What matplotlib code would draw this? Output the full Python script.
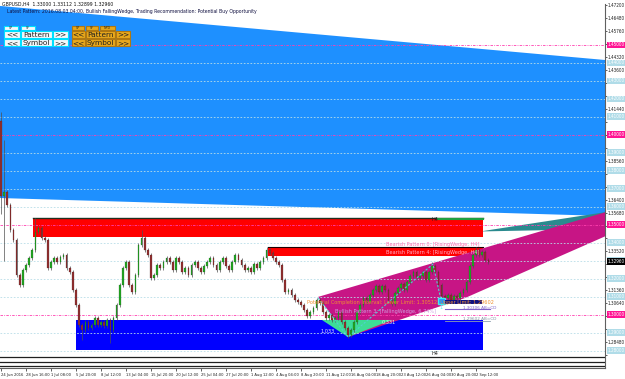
import numpy as np
import matplotlib
matplotlib.use("Agg")
import matplotlib.pyplot as plt
from matplotlib.patches import Polygon, Rectangle

SYMBOL_LINE = "GBPUSD,H4  1.33000 1.33112 1.32899 1.32960"
INFO_LINE = ("Latest Pattern: 2016.08.03 04:00, Bullish FallingWedge, "
             "Trading Recommendation: Potential Buy Opportunity")

# one candle every 2 H4 slots
closes = [
    1.3660, 1.3683, 1.3610, 1.3471, 1.3416, 1.3221, 1.3165, 1.3249, 1.3277, 1.3316,
    1.3360, 1.3460, 1.3482, 1.3427, 1.3416, 1.3260, 1.3293, 1.3316, 1.3293, 1.3321,
    1.3332, 1.3260, 1.3238, 1.3138, 1.3054, 1.2943, 1.2915, 1.2960, 1.2926, 1.2943,
    1.2982, 1.2943, 1.2960, 1.2937, 1.2971, 1.2915, 1.2982, 1.3054, 1.3165, 1.3260,
    1.3293, 1.3165, 1.3126, 1.3221, 1.3388, 1.3427, 1.3360, 1.3332, 1.3204, 1.3221,
    1.3277, 1.3260, 1.3293, 1.3316, 1.3293, 1.3249, 1.3316, 1.3293, 1.3238, 1.3260,
    1.3221, 1.3277, 1.3293, 1.3260, 1.3238, 1.3271, 1.3293, 1.3316, 1.3277, 1.3249,
    1.3293, 1.3316, 1.3271, 1.3249, 1.3293, 1.3332, 1.3304, 1.3277, 1.3249, 1.3260,
    1.3238, 1.3282, 1.3260, 1.3293, 1.3316, 1.3360, 1.3343, 1.3316, 1.3293, 1.3277,
    1.3193, 1.3126, 1.3138, 1.3110, 1.3082, 1.3071, 1.3054, 1.3026, 1.2993, 1.3015,
    1.3038, 1.3082, 1.3065, 1.3015, 1.2982, 1.2999, 1.2971, 1.2982, 1.3015, 1.2960,
    1.2926, 1.2887, 1.2915, 1.2960, 1.3015, 1.3054, 1.3093, 1.3071, 1.3110, 1.3138,
    1.3160, 1.3126, 1.3160, 1.3138, 1.3082, 1.3060, 1.3121, 1.3149, 1.3171, 1.3138,
    1.3182, 1.3215, 1.3238, 1.3204, 1.3215, 1.3238, 1.3193, 1.3238, 1.3271, 1.3238,
    1.3165, 1.3104, 1.3093, 1.3110, 1.3082, 1.3104, 1.3093, 1.3121, 1.3138, 1.3182,
    1.3271, 1.3332, 1.3360, 1.3332, 1.3349, 1.3304, 1.3296,
]
first_open = 1.4080
wick = 0.0012
spike_idx = [0, 1, 11, 26, 35, 45, 85, 111, 138, 152]
spike_high = [1.4130, 1.3972, 1.3538, None, None, 1.3471, 1.3377, None, 1.3293, 1.3377]
spike_low = [1.3560, 1.3300, None, 1.2860, 1.2843, None, None, 1.2871, None, None]

date_labels = ["24 Jun 2016", "28 Jun 16:00", "1 Jul 08:00", "5 Jul 20:00",
               "8 Jul 12:00", "13 Jul 04:00", "15 Jul 20:00", "20 Jul 12:00",
               "25 Jul 04:00", "27 Jul 20:00", "1 Aug 12:00", "4 Aug 04:00",
               "8 Aug 20:00", "11 Aug 12:00", "16 Aug 04:00", "18 Aug 20:00",
               "23 Aug 12:00", "26 Aug 04:00", "30 Aug 20:00", "2 Sep 12:00"]

# pattern objects (slot, price)
wedge_blue = [(-0.64, 1.4717), (387.2, 1.4416), (387.2, 1.3549), (-0.64, 1.3649)]
wedge_teal = [(306.6, 1.3463), (387.2, 1.3571), (387.2, 1.3477)]
wedge_magenta = [(202.9, 1.3099), (387.2, 1.3571), (387.2, 1.3438),
                 (297.0, 1.3093), (222.1, 1.2876)]
tri_green = [(205.4, 1.2971), (250.2, 1.2971), (222.1, 1.2876)]
zigzag_x = [202.9, 222.1, 276.5, 281.6]
zigzag_y = [1.3093, 1.2876, 1.3282, 1.3082]
red_zone1 = (20.5, 308.5, 1.3432, 1.3538)
red_zone2 = (170.9, 308.5, 1.3327, 1.3377)
blue_zone = (48.0, 308.5, 1.2804, 1.2971)

level_minor = [1.44, 1.43, 1.42, 1.41, 1.39, 1.38, 1.37, 1.36,
               1.34, 1.33, 1.32, 1.31, 1.29, 1.28]
level_major = [1.45, 1.40, 1.35, 1.30]
price_ticks = [round(1.4720 - 0.0072 * k, 4) for k in range(28)]

small = dict(fontsize=3.3, fontstretch="condensed")
xsmall = dict(fontsize=2.95, fontstretch="condensed")

fig = plt.figure(figsize=(6.25, 3.79), dpi=100)
fig.patch.set_facecolor("white")
ax = fig.add_axes([0, 11 / 379, 605 / 625, 364 / 379])
ax.set_xlim(-0.64, 386.6)
ax.set_ylim(1.27039, 1.47278)
ax.set_facecolor("white")

# background objects
ax.add_patch(Polygon(wedge_blue, closed=True, fc="#1E90FF", ec="none", zorder=1))
ax.add_patch(Polygon(wedge_magenta, closed=True, fc="#C71585", ec="none", zorder=1.2))
ax.add_patch(Polygon(wedge_teal, closed=True, fc="#2A8A8E", ec="none", zorder=1.05))
for (x0, x1, y0, y1), col in [(red_zone1, "#FF0000"), (red_zone2, "#FF0000"),
                              (blue_zone, "#0000FF")]:
    ax.add_patch(Rectangle((x0, y0), x1 - x0, y1 - y0, fc=col, ec="none", zorder=1.1))
ax.plot([red_zone1[0], red_zone1[1]], [red_zone1[3]] * 2, color="#203020", lw=1.0, zorder=1.15)
ax.plot([280, red_zone1[1]], [red_zone1[3] - 0.0008] * 2, color="#20A040", lw=1.5, zorder=1.16)
ax.plot([red_zone2[0], red_zone2[1]], [red_zone2[3]] * 2, color="#200000", lw=0.8, zorder=1.15)
ax.add_patch(Polygon(tri_green, closed=True, fc="#3DDC97", ec="none", zorder=1.25))

# level lines
for lv in level_minor:
    ax.axhline(lv, color="#B8DDE8", lw=0.6, ls=(0, (2, 2)), zorder=2)
for lv in level_major:
    ax.axhline(lv, color="#FF3FB0", lw=0.6, ls=(0, (3, 1.5, 1, 1.5)), zorder=2)

# candles
n = len(closes)
xs = np.arange(n) * 2.0
opens = [first_open] + closes[:-1]
highs = [max(o, c) + wick for o, c in zip(opens, closes)]
lows = [min(o, c) - wick for o, c in zip(opens, closes)]
for i, h, l in zip(spike_idx, spike_high, spike_low):
    if h is not None:
        highs[i] = h
    if l is not None:
        lows[i] = l
ax.vlines(xs, lows, highs, color="#505050", lw=0.5, zorder=3)
o = np.array(opens)
c = np.array(closes)
up = c >= o
ax.bar(xs[up], np.maximum(c[up] - o[up], 0.0002), bottom=o[up], width=1.1,
       color="#22A822", edgecolor="#1A401A", lw=0.15, zorder=3.1)
ax.bar(xs[~up], np.maximum(o[~up] - c[~up], 0.0002), bottom=c[~up], width=1.1,
       color="#923030", edgecolor="#401515", lw=0.15, zorder=3.1)

# pattern drawings
ax.plot(zigzag_x, zigzag_y, color="#50D0D0", lw=0.8, ls=(0, (2, 1.5)), zorder=3.5)
ax.add_patch(Rectangle((279.7, 1.3060), 4.5, 0.0033, fc="#1E90FF", ec="#40F0F0", lw=1.0, zorder=3.6))
ax.add_patch(Rectangle((284.2, 1.3060), 23.6, 0.0022, fc="#101080", ec="none", zorder=3.6))
ax.plot([284.2, 307.8], [1.3055, 1.3055], color="white", lw=0.6, zorder=3.6)
ax.plot([284.2, 313.0], [1.3032, 1.3032], color="#8060C8", lw=0.8, zorder=3.6)
ax.plot([284.2, 313.0], [1.2968, 1.2968], color="#90A0B0", lw=0.6, zorder=3.6)

fs = 3.6
ax.text(306, 1.3393, "Bearish Pattern 0: [RisingWedge, H4]", color="#FF6FB0", fontsize=fs,
        ha="right", va="center", zorder=4)
ax.text(306, 1.3348, "Bearish Pattern 4: [RisingWedge, H4]", color="#FFB0C8", fontsize=fs,
        ha="right", va="center", zorder=4)
ax.text(278, 1.3530, "H4", color="#202020", fontsize=fs, ha="center", va="center", zorder=4)
ax.text(278, 1.2785, "H4", color="#202020", fontsize=fs, ha="center", va="center", zorder=4)
ax.text(196, 1.3070, "Potential Completion Interval: Lower Limit: 1.30512, Upper Limit: 1.29602",
        color="#F09030", fontsize=fs, ha="left", va="center", zorder=4)
ax.text(214, 1.3017, "Bullish Pattern 3: [FallingWedge, 6.74%]", color="#D0A0E0",
        fontsize=fs, ha="left", va="center", zorder=4)
ax.text(248, 1.2955, "0.331", color="#E0FFE0", fontsize=fs, ha="center", va="center", zorder=4)
ax.text(209, 1.2905, "1.033", color="#E0E0FF", fontsize=fs, ha="center", va="center", zorder=4)
ax.text(281.5, 1.3040, "1", color="#60F0F0", fontsize=fs, ha="center", va="center", zorder=4)
ax.text(296, 1.3028, "1.30306 AB=CD", color="#8060C8", fontsize=3.0, ha="left", va="bottom", zorder=4)
ax.text(296, 1.2964, "1.29602 AB=CD", color="#8090A0", fontsize=3.0, ha="left", va="bottom", zorder=4)

# three separator lines at the bottom
for fy in [0.031, 0.017, 0.006]:
    ax.plot([0, 1], [fy, fy], transform=ax.transAxes, color="#202020", lw=0.9, zorder=5)

# axes
for side in ["top", "left"]:
    ax.spines[side].set_visible(False)
ax.spines["right"].set_color("#606060")
ax.spines["right"].set_linewidth(0.8)
ax.spines["bottom"].set_color("#606060")
ax.yaxis.tick_right()
levels_all = level_minor + level_major + [closes[-1]]
ax.set_yticks(price_ticks)
ax.set_yticklabels(["" if min(abs(p - lv) for lv in levels_all) < 0.003 else f"{p:.5f}"
                    for p in price_ticks], **small)
ax.tick_params(axis="y", length=1.5, width=0.5, pad=0.6, colors="#202020")
ax.set_xticks([16 * k for k in range(len(date_labels))])
ax.set_xticklabels(date_labels, ha="left", **xsmall)
ax.tick_params(axis="x", length=2, width=0.5, pad=1.5, colors="#202020")

ytr = ax.get_yaxis_transform()
box_styles = [(level_minor, "#B0DCE8"), (level_major, "#FF1493"), ([closes[-1]], "black")]
for levels, bg in box_styles:
    for lv in levels:
        ax.text(1.004, lv, f"{lv:.5f}", transform=ytr, color="white", ha="left",
                va="center", clip_on=False, zorder=6,
                bbox=dict(boxstyle="square,pad=0.2", fc=bg, ec="none"), **small)

# overlay for header text and panel buttons (pixel coords)
ov = fig.add_axes([0, 0, 1, 1])
ov.set_xlim(0, 625)
ov.set_ylim(379, 0)
ov.axis("off")
ov.patch.set_alpha(0)
ov.text(2, 4.5, SYMBOL_LINE, fontsize=3.3, color="#101010", va="center")
ov.text(7, 11, INFO_LINE, fontsize=3.3, color="#101040", va="center")


def button(x, y, w, h, label, fc, ec, tc, fsz=5.3):
    ov.add_patch(Rectangle((x, y), w, h, fc=fc, ec=ec, lw=0.8))
    ov.text(x + w / 2, y + h / 2 + 0.3, label, fontsize=fsz, color=tc, ha="center", va="center")


cyan_bg, cyan_ec = "#F4F8FA", "#00E0FF"
gold_bg, gold_ec = "#E8A81C", "#B07810"
button(4, 25.5, 14, 4.5, "SP", cyan_bg, cyan_ec, "#202020", 2.3)
button(21, 25.5, 14, 4.5, "SF", cyan_bg, cyan_ec, "#202020", 2.3)
for row, name in enumerate(["Pattern", "Symbol"]):
    y = 30.5 + row * 8.3
    button(4, y, 16, 7.5, "<<", cyan_bg, cyan_ec, "#202020")
    button(21, y, 31, 7.5, name, cyan_bg, cyan_ec, "#202020")
    button(53, y, 15, 7.5, ">>", cyan_bg, cyan_ec, "#202020")
button(72, 25.5, 12, 4.5, "SP", gold_bg, gold_ec, "#202020", 2.3)
button(86, 25.5, 12, 4.5, "SF", gold_bg, gold_ec, "#202020", 2.3)
button(100, 25.5, 15, 4.5, "NPD", gold_bg, gold_ec, "#202020", 2.3)
for row, name in enumerate(["Pattern", "Symbol"]):
    y = 30.5 + row * 8.3
    button(72, y, 13, 7.5, "<<", gold_bg, gold_ec, "#202020")
    button(86, y, 29, 7.5, name, gold_bg, gold_ec, "#202020")
    button(116, y, 14, 7.5, ">>", gold_bg, gold_ec, "#202020")

fig.savefig("out.png", dpi=100)
